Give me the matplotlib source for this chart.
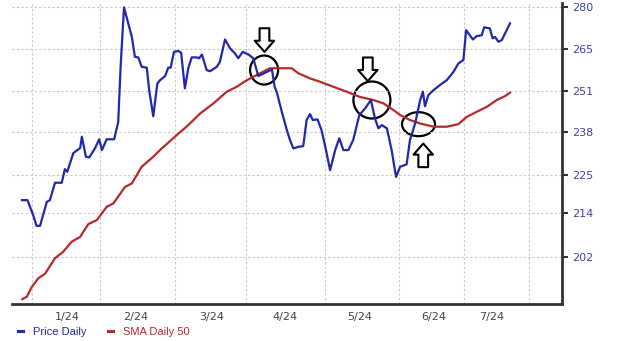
import matplotlib
matplotlib.use("Agg")
from matplotlib import pyplot as plt
from matplotlib.patches import Ellipse
from matplotlib.transforms import ScaledTranslation
from matplotlib.ticker import NullLocator, NullFormatter

# x = trading day since the start of the chart
price_day = [0, 1.6, 3.1, 4.3, 5.3, 7.3, 8.2, 9.7, 11.7, 12.6, 13.3, 15.1, 17.1, 17.6, 18.8,
             19.8, 21.5, 22.7, 23.5, 24.9, 27.1, 28.3, 29.0, 30.0, 32.3, 33.2, 34.2, 35.2,
             36.7, 37.4, 38.6, 39.8, 40.6, 42.1, 43.0, 43.7, 44.7, 46.0, 46.8, 47.9, 48.9,
             49.9, 51.4, 52.1, 52.9, 54.3, 55.3, 57.3, 58.2, 59.7, 61.2, 62.6, 63.6, 64.9,
             66.6, 68.0, 69.5, 73.5, 74.3, 74.9, 76.4, 77.9, 78.8, 79.8, 81.3, 82.7, 83.7,
             84.7, 85.5, 86.9, 88.1, 89.4, 90.6, 92.1, 93.3, 94.5, 96.0, 97.4, 99.2, 100.9,
             102.6, 103.8, 104.8, 105.8, 107.3, 108.7, 110.0, 111.2, 113.1, 114.1, 115.6,
             117.1, 117.9, 118.5, 119.5, 121.0, 122.9, 124.9, 126.9, 128.3, 129.8, 130.6,
             132.6, 133.7, 135.2, 135.9, 137.6, 138.4, 139.1, 140.1, 141.1, 143.5]
price = [217.6, 217.6, 213.9, 210.4, 210.4, 217.1, 217.6, 222.6, 222.6, 226.6, 225.8, 231.4,
         232.9, 236.4, 230.3, 230.1, 232.9, 235.6, 232.3, 235.6, 235.6, 241.0, 259.0, 279.9,
         269.3, 262.4, 262.2, 259.0, 258.7, 251.2, 242.8, 253.4, 254.5, 255.9, 258.7, 258.7,
         264.1, 264.4, 263.8, 251.8, 258.5, 262.2, 262.2, 261.9, 263.2, 257.9, 257.5, 259.0,
         260.7, 268.4, 265.3, 263.6, 261.9, 264.1, 263.2, 261.9, 255.9, 258.1, 252.3, 250.7,
         244.2, 238.4, 235.4, 232.8, 233.3, 233.5, 241.6, 243.5, 241.6, 241.8, 238.4, 232.3,
         226.3, 232.3, 235.9, 232.3, 232.3, 235.4, 243.2, 245.3, 248.0, 242.1, 239.0, 240.0,
         239.0, 232.3, 224.3, 227.3, 228.0, 235.4, 240.5, 248.0, 250.7, 246.0, 249.6, 251.2,
         252.9, 254.5, 257.3, 260.1, 261.3, 271.7, 268.4, 269.6, 269.9, 272.7, 272.3, 268.8,
         269.3, 267.6, 268.2, 274.1]

sma_day = [0.1, 1.4, 2.9, 4.8, 6.8, 9.7, 12.1, 14.6, 17.1, 19.5, 22.0, 24.9, 26.9, 30.3,
           32.3, 35.2, 38.6, 41.1, 45.5, 48.9, 52.4, 56.3, 60.2, 63.1, 66.1, 69.0, 72.9,
           79.3, 81.3, 84.7, 87.6, 91.6, 95.5, 99.4, 103.3, 106.3, 109.2, 111.2, 114.1,
           117.1, 121.0, 124.9, 128.3, 130.8, 133.7, 136.7, 139.6, 142.1, 143.5]
sma50 = [191.2, 191.8, 194.3, 196.5, 197.7, 201.7, 203.4, 206.1, 207.4, 210.9, 212.0, 215.7,
         216.7, 221.4, 222.4, 227.3, 230.3, 232.8, 236.9, 240.0, 243.7, 246.9, 250.7, 252.3,
         254.5, 256.2, 258.5, 258.5, 256.8, 255.1, 254.0, 252.3, 250.7, 249.0, 248.0, 246.9,
         244.8, 243.2, 241.6, 240.5, 239.5, 239.5, 240.3, 242.6, 244.2, 245.8, 248.0, 249.3,
         250.4]

month_start = [3, 23, 45, 66, 89, 111, 130, 149]
month_mid = [13.2, 33.5, 55.9, 77.4, 99.4, 121.2, 138.2]
month_labels = ["1/24", "2/24", "3/24", "4/24", "5/24", "6/24", "7/24"]
price_ticks = [202, 214, 225, 238, 251, 265, 280]

# crossovers marked on the chart
circle_day = [71.2, 102.9, 116.6]
circle_price = [257.9, 248.0, 240.3]
circle_w = [0.28, 0.37, 0.33]
circle_h = [0.29, 0.37, 0.24]
arrow_day = [71.3, 101.7, 118.0]
arrow_price = [264.1, 254.2, 234.3]
arrow_dir = [1, 1, -1]  # 1 = points down

fig = plt.figure(figsize=(6.2, 3.41), dpi=100)
ax = fig.add_axes([12 / 620, 1 - 304 / 341, 550 / 620, 301 / 341])

l1, = ax.plot(price_day, price, color="#2228a8", lw=1.6, label="Price Daily", zorder=3)
l2, = ax.plot(sma_day, sma50, color="#b52a2a", lw=1.6, label="SMA Daily 50", zorder=2)

for d, p, w, h in zip(circle_day, circle_price, circle_w, circle_h):
    e = Ellipse((0, 0), w, h, fill=False, ec="black", lw=1.6,
                transform=fig.dpi_scale_trans + ScaledTranslation(d, p, ax.transData))
    ax.add_artist(e)

for d, p, s in zip(arrow_day, arrow_price, arrow_dir):
    ax.annotate("", xy=(d, p), xytext=(0, 17 * s), textcoords="offset points",
                arrowprops=dict(arrowstyle="simple,head_length=8,head_width=14,tail_width=7",
                                mutation_scale=1, fc="white", ec="black", lw=1.5,
                                shrinkA=0, shrinkB=0), zorder=5)

ax.set_yscale("log")
ax.set_xlim(-2.94, 158.8)
ax.set_ylim(190.0, 281.5)

ax.yaxis.tick_right()
ax.set_yticks(price_ticks)
ax.set_yticklabels([str(v) for v in price_ticks])
ax.yaxis.set_minor_locator(NullLocator())
ax.tick_params(axis="y", which="major", direction="out", length=4, width=1.5,
               color="#333333", labelcolor="#4040a8", labelsize=8, pad=3)

ax.set_xticks(month_start)
ax.xaxis.set_major_formatter(NullFormatter())
ax.set_xticks(month_mid, minor=True)
ax.set_xticklabels(month_labels, minor=True)
ax.tick_params(axis="x", which="both", length=0)
ax.tick_params(axis="x", which="minor", labelsize=8, labelcolor="#444444", pad=6)

ax.grid(True, which="major", color="#c8c8c8", linestyle=(0, (2, 2)), linewidth=0.8)

for side in ["left", "top"]:
    ax.spines[side].set_visible(False)
for side in ["right", "bottom"]:
    ax.spines[side].set_linewidth(2)
    ax.spines[side].set_color("#333333")

leg = ax.legend(handles=[l1, l2], loc="center left", bbox_to_anchor=(18 / 620, 1 - 332 / 341),
                bbox_transform=fig.transFigure, ncol=2, frameon=False, handlelength=0.45,
                handletextpad=0.9, columnspacing=1.9, labelcolor="linecolor",
                prop={"family": "Liberation Sans", "size": 8}, borderaxespad=0, borderpad=0)
for h in leg.legend_handles:
    h.set_linewidth(2.2)

fig.savefig("out.png", dpi=100)
